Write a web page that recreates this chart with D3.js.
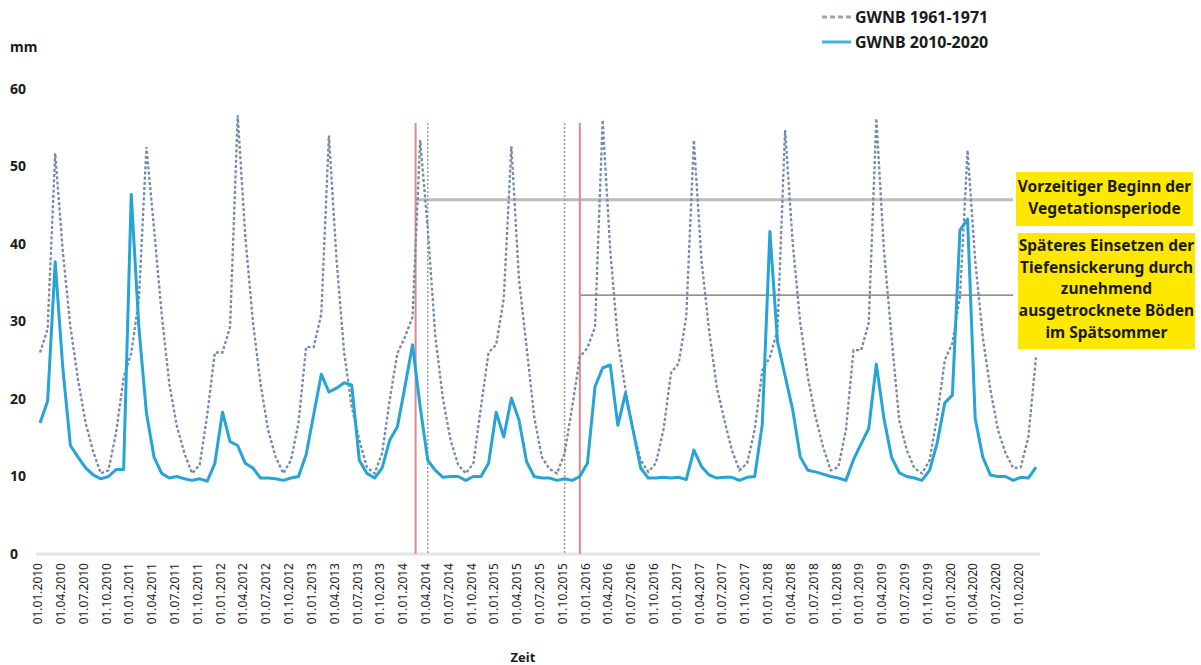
<!DOCTYPE html>
<html><head><meta charset="utf-8">
<script src="https://cdn.jsdelivr.net/npm/d3@7"></script>
<style>
html,body{margin:0;padding:0;background:#fff;}
svg{display:block;font-family:"Noto Sans",sans-serif;}
</style></head>
<body><svg id="chart" width="1201" height="665"></svg>
<script>
// ---- data ----
const years = [2010,2011,2012,2013,2014,2015,2016,2017,2018,2019,2020];
const months = ["01","02","03","04","05","06","07","08","09","10","11","12"];
const categories = years.flatMap(y => months.map(m => `01.${m}.${y}`));
const tickLabels = categories.filter((d,i) => i % 3 === 0);
const yTicks = [0,10,20,30,40,50,60];
const seriesNames = ["GWNB 1961-1971","GWNB 2010-2020"];

// GWNB 1961-1971 (dashed), monthly
const gwnb1961 = [
 26.0,29.0,51.7,39.0,29.3,22.5,16.9,13.2,10.4,10.8,15.6,22.8,
 25.9,32.8,52.5,42.0,31.0,22.0,16.5,13.0,10.4,11.5,18.0,26.0,
 26.0,29.3,56.6,41.0,30.0,22.0,16.0,12.5,10.4,12.1,16.9,26.7,
 26.7,31.0,54.0,38.0,26.0,19.0,14.7,11.2,10.4,13.0,19.9,25.9,
 28.0,30.6,53.4,42.0,28.0,20.0,14.7,11.5,10.4,11.7,19.0,26.0,
 27.0,33.0,52.6,35.4,26.7,17.7,12.5,11.0,10.4,13.0,19.0,25.4,
 26.6,29.3,56.0,39.2,27.6,21.2,16.0,12.1,10.6,11.7,16.0,23.4,
 24.6,30.6,53.4,37.9,28.9,21.6,17.3,13.4,10.8,11.7,16.0,23.7,
 25.4,28.9,54.7,40.1,29.8,22.8,17.7,13.8,10.8,11.2,16.0,26.3,
 26.3,29.8,56.2,39.2,28.0,17.3,13.4,11.1,10.4,12.1,17.7,25.0,
 27.2,33.2,52.1,37.9,28.0,21.2,16.0,13.0,11.1,11.2,15.1,25.4
];
// GWNB 2010-2020 (solid), monthly
const gwnb2010 = [
 16.9,19.7,37.7,24.0,14.0,12.5,11.1,10.2,9.7,10.0,10.9,10.9,
 46.4,29.3,18.2,12.5,10.4,9.8,10.0,9.7,9.5,9.7,9.4,11.7,
 18.3,14.5,14.0,11.7,11.1,9.8,9.8,9.7,9.5,9.8,10.0,12.8,
 18.0,23.2,20.9,21.4,22.1,21.8,12.1,10.4,9.8,11.1,14.7,16.4,
 21.6,27.0,19.0,12.1,10.8,9.9,10.0,10.0,9.5,10.0,10.0,11.7,
 18.3,15.1,20.1,17.3,11.9,10.0,9.8,9.8,9.5,9.7,9.5,10.0,
 11.7,21.6,24.0,24.4,16.6,20.7,16.0,11.1,9.8,9.8,9.9,9.8,
 9.9,9.6,13.4,11.3,10.2,9.8,9.9,9.9,9.5,9.9,10.0,16.7,
 41.6,27.4,23.0,18.6,12.5,10.8,10.6,10.3,10.0,9.8,9.5,12.2,
 14.2,16.2,24.5,17.5,12.5,10.5,10.0,9.8,9.5,10.8,14.3,19.5,
 20.5,41.8,43.2,17.5,12.5,10.2,10.0,10.0,9.5,9.9,9.8,11.2
];

// annotations (month index positions / values)
const redMarks = [49.4, 71.0];
const dottedMarks = [51.0, 69.0];
const levelLines = [{value:45.7, from:49.4, kind:"thick"},{value:33.4, from:71.0, kind:"thin"}];
const notes = [
 ["Vorzeitiger Beginn der","Vegetationsperiode"],
 ["Späteres Einsetzen der","Tiefensickerung durch","zunehmend","ausgetrocknete Böden","im Spätsommer"]
];

// ---- chart ----
const svg = d3.select("#chart");
const x = d3.scalePoint().domain(categories).range([40, 1036]);
const y = d3.scaleLinear().domain([0,60]).range([554, 89]);
const xi = i => x(categories[0]) + i * x.step();

// axis baseline
svg.append("line").attr("x1",36).attr("x2",1040).attr("y1",y(0)).attr("y2",y(0))
  .attr("stroke","#e4e4e4").attr("stroke-width",3);

// y labels
svg.append("g").selectAll("text").data(yTicks).join("text")
  .attr("x",10).attr("y",d=>y(d)).attr("dy","0.35em")
  .attr("font-size",14).attr("font-weight","bold").attr("fill","#1a1a1a")
  .text(d=>d);
svg.append("text").attr("x",10).attr("y",52).attr("font-size",14)
  .attr("font-weight","bold").attr("fill","#1a1a1a").text("mm");

// x labels
svg.append("g").selectAll("text").data(tickLabels).join("text")
  .attr("transform",d=>`translate(${x(d)-2},563) rotate(-90)`)
  .attr("text-anchor","end").attr("dy","0.35em")
  .attr("font-size",12).attr("fill","#1a1a1a").text(d=>d);
svg.append("text").attr("x",523).attr("y",662).attr("text-anchor","middle")
  .attr("font-size",13).attr("font-weight","bold").attr("fill","#1a1a1a").text("Zeit");

// annotation lines
const markTop = 123;
levelLines.forEach(l=>{
  svg.append("line").attr("x1",xi(l.from)).attr("x2",1013)
    .attr("y1",y(l.value)).attr("y2",y(l.value))
    .attr("stroke", l.kind==="thick" ? "#bdbdbd" : "#6e6e6e")
    .attr("stroke-width", l.kind==="thick" ? 3 : 1.2);
});
svg.append("g").selectAll("line").data(dottedMarks).join("line")
  .attr("x1",d=>xi(d)).attr("x2",d=>xi(d)).attr("y1",markTop).attr("y2",y(0))
  .attr("stroke","#9a9aa6").attr("stroke-width",1.5).attr("stroke-dasharray","2,2");
svg.append("g").selectAll("line").data(redMarks).join("line")
  .attr("x1",d=>xi(d)).attr("x2",d=>xi(d)).attr("y1",markTop).attr("y2",y(0))
  .attr("stroke","#d98a8a").attr("stroke-width",2);

// series
const line = d3.line().x((d,i)=>x(categories[i])).y(d=>y(d));
svg.append("path").datum(gwnb1961).attr("d",line).attr("fill","none")
  .attr("stroke","#7389aa").attr("stroke-width",2.3).attr("stroke-dasharray","3,2.2");
svg.append("path").datum(gwnb2010).attr("d",line).attr("fill","none")
  .attr("stroke","#26a4d6").attr("stroke-width",3).attr("stroke-linejoin","round");

// legend
const lg = svg.append("g");
[[17,"dash"],[42,"solid"]].forEach(([ly,k],i)=>{
  lg.append("line").attr("x1",822).attr("x2",851).attr("y1",ly).attr("y2",ly)
    .attr("stroke", k==="dash" ? "#98a7b9" : "#45b0da")
    .attr("stroke-width", 3)
    .attr("stroke-dasharray", k==="dash" ? "5,3" : null);
  lg.append("text").attr("x",855).attr("y",ly+5.5).attr("font-size",16)
    .attr("font-weight","bold").attr("fill","#1a1a1a").text(seriesNames[i]);
});

// yellow notes
const boxes = [{x:1016,y:172,w:177,h:54,base:192},{x:1018,y:233,w:177,h:116,base:251}];
boxes.forEach((b,i)=>{
  svg.append("rect").attr("x",b.x).attr("y",b.y).attr("width",b.w).attr("height",b.h)
    .attr("fill","#ffe800");
  svg.append("g").selectAll("text").data(notes[i]).join("text")
    .attr("x",b.x+b.w/2).attr("y",(d,j)=>b.base + j*21.7)
    .attr("text-anchor","middle").attr("font-size",15.5).attr("font-weight","bold")
    .attr("fill","#1a1a1a").text(d=>d);
});
</script></body></html>
